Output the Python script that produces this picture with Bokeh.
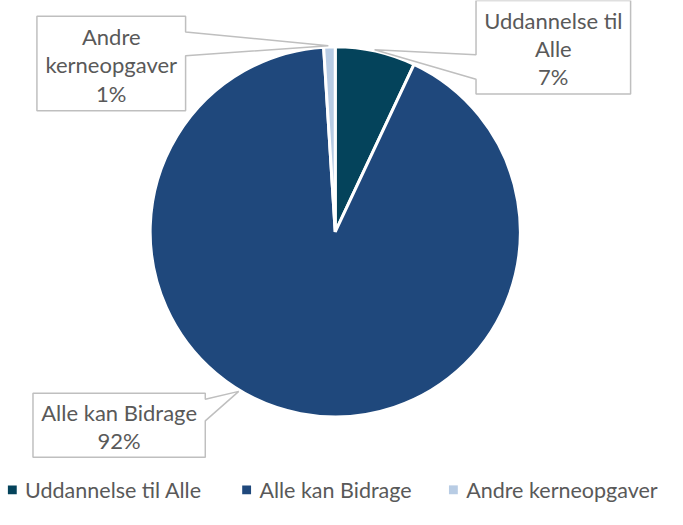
import math
from bokeh.plotting import figure
from bokeh.models import Range1d, ColumnDataSource
from bokeh.core.properties import value
from bokeh.embed import file_html
from bokeh.resources import INLINE

# ---- data ----
categories = ["Uddannelse til Alle", "Alle kan Bidrage", "Andre kerneopgaver"]
shares = [7, 92, 1]
label_lines = [["Uddannelse til", "Alle"], ["Alle kan Bidrage"], ["Andre", "kerneopgaver"]]
colors = ["#04435B", "#1F487C", "#B8CCE4"]

# ---- layout (reference pixel coordinates, y measured from top) ----
H = 525
def Y(py):
    return H - py

W_PX, H_PX = 667, 509
S = H_PX / 517.0          # uniform scale so the reference (y 8..525) fits
CX, CY, R = 340, 243, 188
# box: left, top, right, bottom, side of pointer, gap start, gap end, apex
callouts = [
    (483, 8, 640, 103, "left", 63, 88, (380, 58)),
    (33, 407, 208, 472, "right", 413, 435, (242, 405)),
    (37, 24, 188, 120, "right", 40, 64, (333, 54)),
]
legend_sq_x = [12, 250, 460]
legend_tx_x = [25, 263, 473]
legend_y = 505

FONT = "Lato"
TXT = "#595959"
FS = "%.1fpx" % (22.3 * S)
LFS = "%.1fpx" % (21.8 * S)

p = figure(width=W_PX, height=H_PX, x_range=Range1d(0, W_PX / S), y_range=Range1d(0, 517),
           output_backend="svg", toolbar_location=None, min_border=0,
           x_axis_type=None, y_axis_type=None)
p.grid.visible = False
p.outline_line_color = None
p.background_fill_color = "white"
p.border_fill_color = "white"

# pie
total = float(sum(shares))
starts, ends = [], []
cum = 0.0
for v in shares:
    starts.append(math.pi / 2 - 2 * math.pi * cum / total)
    cum += v
    ends.append(math.pi / 2 - 2 * math.pi * cum / total)
src = ColumnDataSource(dict(start=starts, end=ends, color=colors, cat=categories))
p.wedge(x=CX, y=Y(CY), radius=R, start_angle="start", end_angle="end",
        direction="clock", fill_color="color", line_color="white", line_width=3,
        source=src)

# callouts
for i, (l, t, r, b, side, g1, g2, apex) in enumerate(callouts):
    if side == "right":
        pts = [(l, t), (r, t), (r, g1), apex, (r, g2), (r, b), (l, b)]
    else:
        pts = [(l, t), (r, t), (r, b), (l, b), (l, g2), apex, (l, g1)]
    p.patch([q[0] for q in pts], [Y(q[1]) for q in pts], fill_color="white",
            line_color="#BFBFBF", line_width=1.5)
    lines = label_lines[i] + [f"{shares[i]}%"]
    n = len(lines)
    cy = (t + b) / 2 + 1.5
    sp = 28.5
    ys = [Y(cy - (n - 1) / 2 * sp + k * sp) for k in range(n)]
    p.text(x=[(l + r) / 2] * n, y=ys, text=lines, text_align="center",
           text_baseline="middle", text_font=value(FONT), text_font_size=FS,
           text_color=TXT)

# legend
p.scatter(x=legend_sq_x, y=[Y(legend_y)] * 3, marker="square", size=9 * S,
          fill_color=colors, line_color=None)
p.text(x=legend_tx_x, y=[Y(legend_y)] * 3, text=categories, text_align="left",
       text_baseline="middle", text_font=value(FONT), text_font_size=LFS,
       text_color=TXT)

open("out.html", "w").write(file_html(p, INLINE))
